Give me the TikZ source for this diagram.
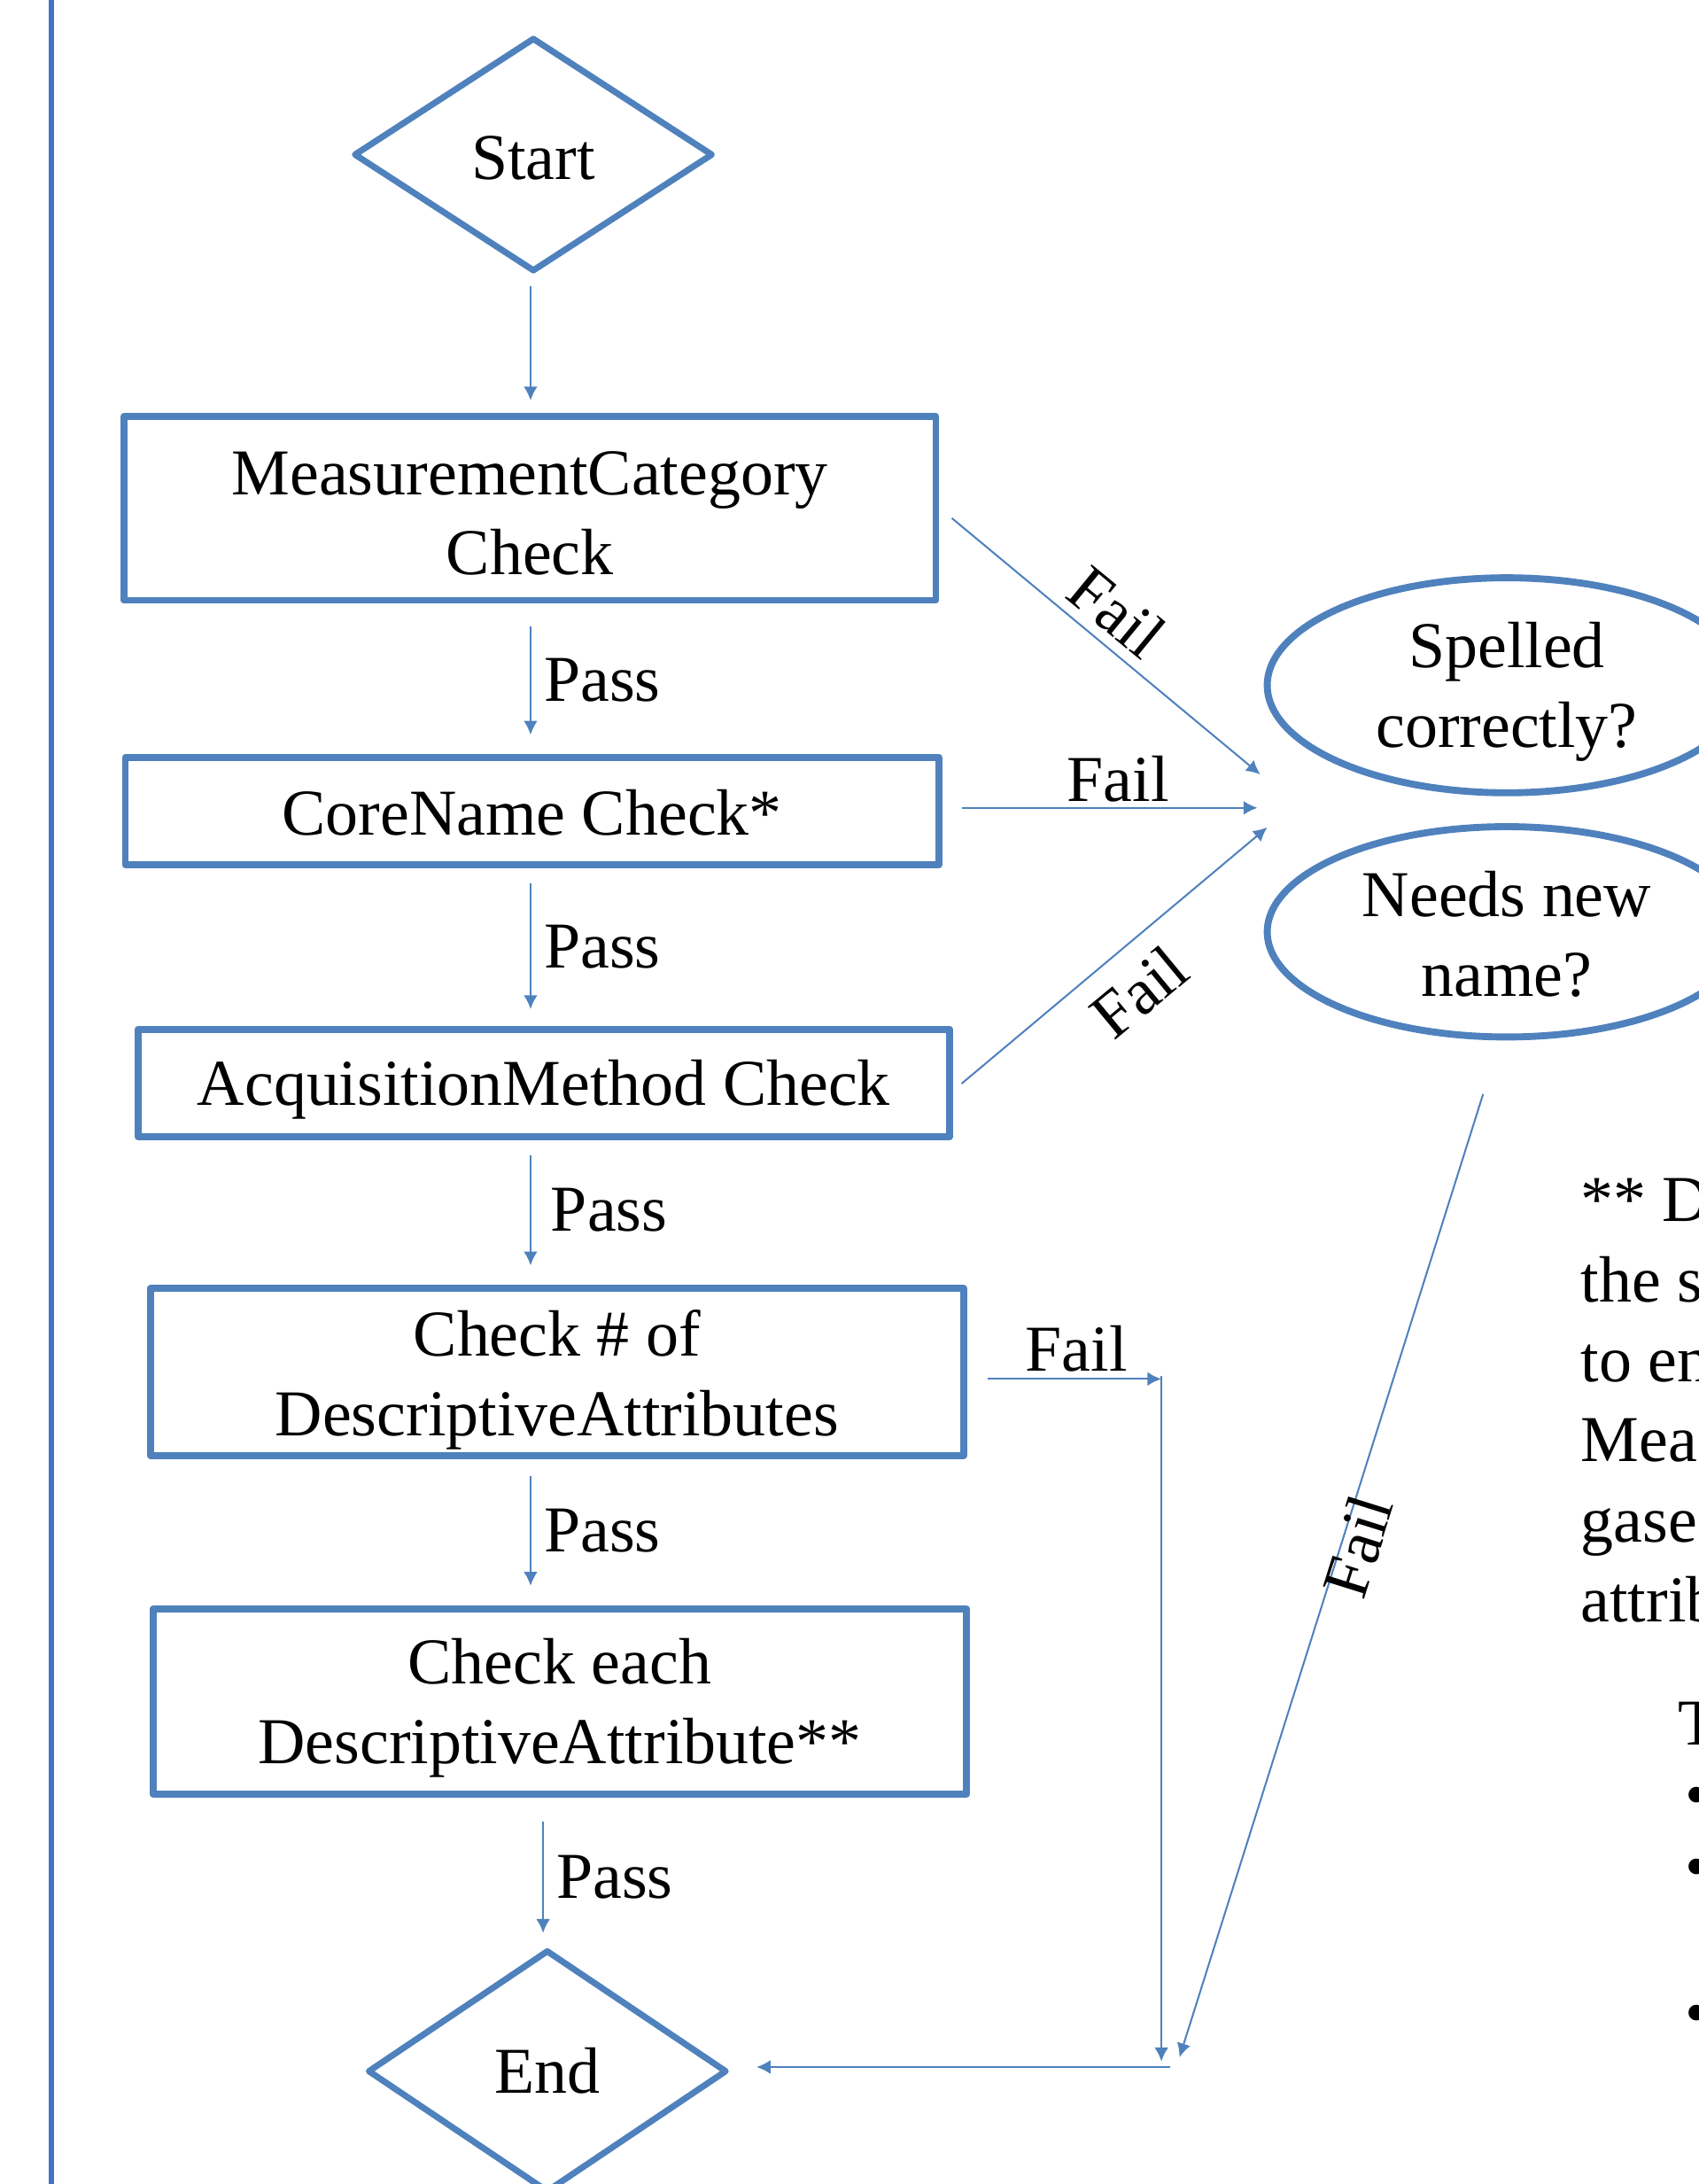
\documentclass[tikz,border=0pt]{standalone}
\usepackage{fontspec}
\setmainfont{Liberation Serif}
\usetikzlibrary{shapes.geometric,arrows.meta,calc}
\definecolor{boxblue}{RGB}{79,129,189}
\definecolor{railblue}{RGB}{68,114,196}
\newcommand{\topad}[1]{\rule{0pt}{#1}}
\begin{document}
\begin{tikzpicture}[x=1pt,y=-1pt,
  every node/.style={font=\fontsize{47}{57}\selectfont, text=black},
  procbox/.style={rectangle, draw=boxblue, line width=5pt, line join=round, fill=white, inner sep=0pt, align=center},
  decision/.style={diamond, draw=boxblue, line width=4.5pt, line join=round, fill=white, inner sep=0pt, minimum width=258pt},
  question/.style={ellipse, draw=boxblue, line width=5pt, fill=white, inner sep=0pt, align=center, minimum width=344pt, minimum height=151pt},
  conn/.style={draw=boxblue, line width=1.3pt, -{Latex[length=10pt,width=10pt]}},
  passlbl/.style={anchor=west, inner sep=0pt, xshift=9pt},
  faillbl/.style={inner sep=0pt},
  notetext/.style={anchor=base west, inner sep=0pt}]
\useasboundingbox (0,0) rectangle (1220,1568);
\clip (0,0) rectangle (1220,1568);

% left rail
\draw[railblue, line width=4pt] (37,0) -- (37,1568);

% main column
\node[decision, minimum height=168pt] (start) at (383,111) {\topad{36pt}Start};
\node[procbox, minimum width=583pt, minimum height=132pt] (mc) at (380.5,365) {\topad{38pt}MeasurementCategory\\Check};
\node[procbox, minimum width=584pt, minimum height=77pt] (cn) at (382,582.5) {\topad{34pt}CoreName Check*};
\node[procbox, minimum width=583pt, minimum height=77pt] (am) at (390.5,777.5) {\topad{42pt}AcquisitionMethod Check};
\node[procbox, minimum width=584pt, minimum height=120pt] (cnt) at (400,985) {\topad{44pt}Check \# of\\DescriptiveAttributes};
\node[procbox, minimum width=584pt, minimum height=133pt] (each) at (402,1221.5) {\topad{42pt}Check each\\DescriptiveAttribute**};
\node[decision, minimum height=174pt] (end) at (393,1487) {End};

% questions
\node[question] (spell) at (1082,492) {\topad{42pt}Spelled\\correctly?};
\node[question] (newname) at (1082,669) {\topad{36pt}Needs new\\name?};

% column coordinates
\coordinate (col) at (381,0);
\coordinate (col2) at (390,0);

% pass arrows
\draw[conn] ($(start.south -| col)+(0,8)$) -- ($(mc.north -| col)+(0,-9)$);
\draw[conn] ($(mc.south -| col)+(0,16)$) -- node[passlbl] (p1) {Pass} ($(cn.north -| col)+(0,-14)$);
\draw[conn] ($(cn.south -| col)+(0,11)$) -- node[passlbl] (p2) {Pass} ($(am.north -| col)+(0,-12)$);
\draw[conn] ($(am.south -| col)+(0,11)$) -- node[passlbl, xshift=5pt] (p3) {Pass} ($(cnt.north -| col)+(0,-14)$);
\draw[conn] ($(cnt.south -| col)+(0,12)$) -- node[passlbl] (p4) {Pass} ($(each.north -| col)+(0,-14)$);
\draw[conn] ($(each.south -| col2)+(0,17)$) -- node[passlbl] (p5) {Pass} ($(end.north -| col2)+(0,-10)$);

% fail targets
\coordinate (f1) at (905,556);
\coordinate (f2) at (903,580);
\coordinate (f3) at (910,594);
\coordinate (f4) at (834,990);
\coordinate (f4bot) at (834,1480);
\coordinate (f5) at (847,1477);
\coordinate (hub) at (840,1484);

% fail arrows
\draw[conn] ($(mc.east)+(9,7)$) -- (f1);
\draw[conn] ($(cn.east)+(14,-2.5)$) -- (f2);
\draw[conn] ($(am.east)+(6,0.5)$) -- (f3);
\draw[conn] ($(cnt.east)+(15,5)$) -- (f4);
\draw[conn] ($(f4)+(0,-2)$) -- (f4bot);
\draw[conn] ($(newname.south)+(-17,38.5)$) -- (f5);
\draw[conn] (hub) -- ($(end.east)+(19,-3)$);

% fail labels
\node[faillbl, rotate=-39.4] (l1) at (802,439) {Fail};
\node[faillbl] (l2) at (803,559) {Fail};
\node[faillbl, rotate=39.6] (l3) at (818,712) {Fail};
\node[faillbl] (l4) at (773,968) {Fail};
\node[faillbl, rotate=72.6] (l5) at (975,1110) {Fail};

% side note (cut at the right edge)
\node[notetext] (t1) at (1135,877) {** D};
\node[notetext] (t2) at (1135,934.5) {the s};
\node[notetext] (t3) at (1135,992) {to en};
\node[notetext] (t4) at (1135,1049.5) {Mea};
\node[notetext] (t5) at (1135,1107) {gase};
\node[notetext] (t6) at (1135,1164.5) {attrib};
\node[notetext] (t7) at (1205,1253) {T};
\node[notetext] (b1) at (1210,1304) {•};
\node[notetext] (b2) at (1210,1356) {•};
\node[notetext] (b3) at (1210,1461) {•};
\end{tikzpicture}
\end{document}
